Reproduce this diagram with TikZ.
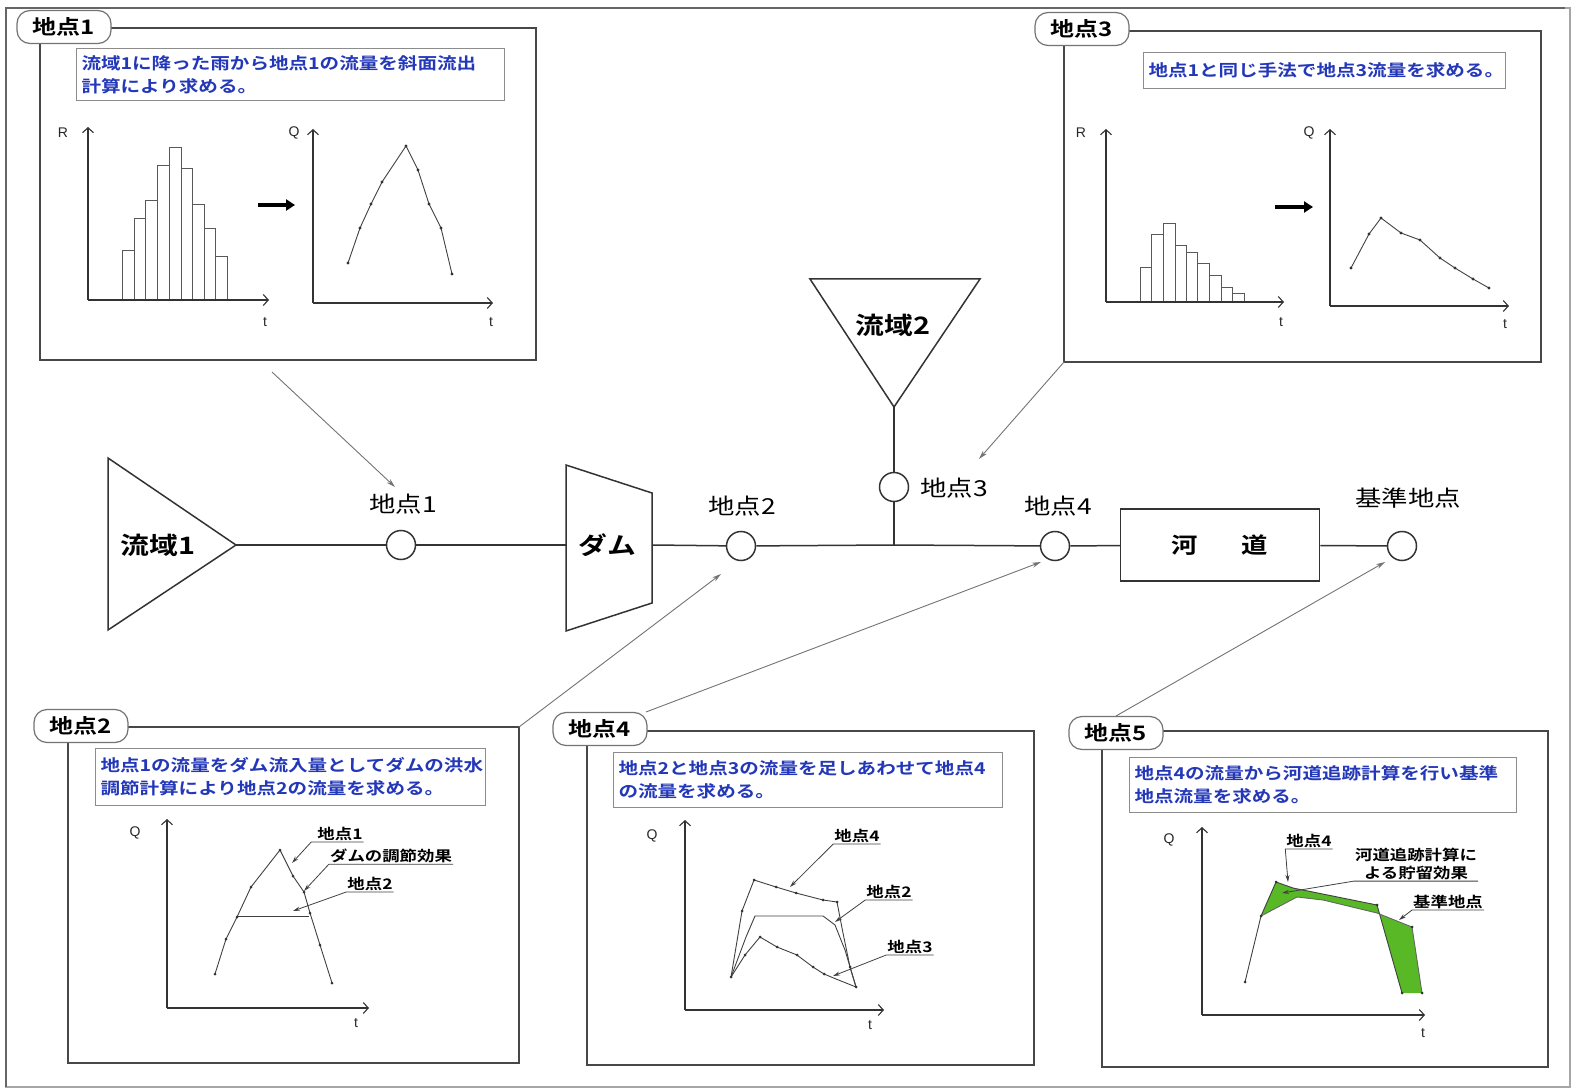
\documentclass[tikz,border=0pt]{standalone}
\usepackage{fontspec}
\setmainfont{Liberation Sans}
\newfontfamily\jp[FakeStretch=1.2]{Noto Sans CJK JP}
\newfontfamily\jpb[FakeStretch=1.2]{Noto Sans CJK JP Bold}
\usetikzlibrary{arrows.meta}
\definecolor{txtblue}{RGB}{35,55,185}
\definecolor{grn}{RGB}{88,184,38}
\begin{document}
\begin{tikzpicture}[x=1pt,y=-1pt,
  frame/.style={draw=black!72,line width=1.8pt},
  pill/.style={draw=black!55,fill=white,line width=1.2pt,rounded corners=13pt,minimum width=94pt,minimum height=33pt,inner sep=0pt,font=\jpb\fontsize{20}{22}\selectfont},
  bluebox/.style={draw=black!45,line width=1pt,fill=white,text=txtblue,align=left,anchor=north west,inner xsep=5pt,inner ysep=0pt,font=\jpb\fontsize{16.3}{23}\selectfont},
  axis/.style={draw=black!80,line width=1.1pt,-{Straight Barb[length=5pt,width=11pt]}},
  bar/.style={draw=black!65,line width=0.8pt},
  curve/.style={draw=black!75,line width=0.9pt},
  dot/.style={fill=black!80},
  pointer/.style={draw=black!55,line width=0.9pt,-{Stealth[length=9pt,width=5pt]}},
  lead/.style={draw=black!75,line width=0.8pt,-{Stealth[length=7pt,width=4pt]}},
  mainline/.style={draw=black!80,line width=1.5pt},
  shapeline/.style={draw=black!80,line width=1.5pt},
  ptc/.style={circle,draw=black!80,line width=1.5pt,fill=white,minimum size=29pt,inner sep=0pt},
  biglbl/.style={font=\jp\fontsize{22}{24}\selectfont,inner sep=1pt},
  shapelbl/.style={font=\jpb\fontsize{24}{26}\selectfont,inner sep=1pt},
  axlbl/.style={font=\fontsize{14}{15}\selectfont,text=black!85,inner sep=0pt},
  clbl/.style={font=\jpb\fontsize{14.5}{17}\selectfont,inner sep=1pt,align=center},
  arrowthick/.style={draw=black,line width=3.2pt,-{Triangle[length=9pt,width=11pt]}}
]
\useasboundingbox (0,0) rectangle (1574,1091);
% outer border
\draw[black!35,line width=1.2pt] (6,8) rectangle (1570,1087);
\draw[black!60,line width=1.4pt] (6,1087) -- (6,8) -- (1565,8);

% ================= Panel 1 =================
\draw[frame] (40,28) rectangle (536,360);
\node[pill] (pill1) at (64,27) {地点1};
\node[bluebox,text width=418pt,minimum height=52pt] (txt1) at (76,48)
  {流域1に降った雨から地点1の流量を斜面流出\\計算により求める。};
\foreach \a/\b/\h in {122/134/250,134/145/218,145/157/200,157/169/165,169/181/147,181/192/168,192/204/204,204/215/228,215/227/256}
  \draw[bar] (\a,300) rectangle (\b,\h);
\draw[axis] (88,300) -- (88,127);
\draw[axis] (88,300) -- (269,300);
\node[axlbl] (r1) at (63,133) {R};
\node[axlbl] (t1a) at (265,322) {t};
\draw[arrowthick] (258,205) -- (295,205);
\draw[axis] (313,303) -- (313,129);
\draw[axis] (313,303) -- (493,303);
\node[axlbl] (q1) at (294,133) {Q};
\node[axlbl] (t1b) at (491,322) {t};
\draw[curve] plot coordinates {(348,263)(360,228)(371,204)(382,182)(406,146)(418,170)(429,204)(441,228)(452,274)};
\foreach \p in {(348,263),(360,228),(371,204),(382,182),(406,146),(418,170),(429,204),(441,228),(452,274)}
  \fill[dot] \p circle (1.6pt);

% ================= Panel 3 =================
\draw[frame] (1064,31) rectangle (1541,362);
\node[pill] (pill3) at (1082,29) {地点3};
\node[bluebox,text width=352pt,minimum height=36pt] (txt3) at (1143,52)
  {地点1と同じ手法で地点3流量を求める。};
\foreach \a/\b/\h in {1140/1151/267,1151/1163/234,1163/1175/223,1175/1186/245,1186/1197/252,1197/1209/263,1209/1221/275,1221/1232/287,1232/1244/293}
  \draw[bar] (\a,302) rectangle (\b,\h);
\draw[axis] (1106,302) -- (1106,129);
\draw[axis] (1106,302) -- (1284,302);
\node[axlbl] (r3) at (1081,133) {R};
\node[axlbl] (t3a) at (1281,322) {t};
\draw[arrowthick] (1275,207) -- (1313,207);
\draw[axis] (1330,306) -- (1330,129);
\draw[axis] (1330,306) -- (1509,306);
\node[axlbl] (q3) at (1309,133) {Q};
\node[axlbl] (t3b) at (1505,324) {t};
\draw[curve] plot coordinates {(1351,268)(1369,234)(1381,218)(1401,233)(1420,240)(1440,258)(1455,268)(1473,279)(1489,288)};
\foreach \p in {(1351,268),(1369,234),(1381,218),(1401,233),(1420,240),(1440,258),(1455,268),(1473,279),(1489,288)}
  \fill[dot] \p circle (1.6pt);

% ================= Main schematic =================
\draw[shapeline,fill=white] (108,458) -- (108,630) -- (236,545) -- cycle;
\coordinate (w1tip) at (236,545);
\node[shapelbl] (w1) at (158,545) {流域1};
\draw[shapeline,fill=white] (566,465) -- (652,493) -- (652,603) -- (566,631) -- cycle;
\coordinate (damL) at (566,545);
\coordinate (damR) at (652,545);
\node[shapelbl] (dam) at (607,545) {ダム};
\draw[shapeline,fill=white] (810,279) -- (980,279) -- (894,407) -- cycle;
\coordinate (w2tip) at (894,407);
\node[shapelbl] (w2) at (893,325) {流域2};
\coordinate (jct) at (894,545);
\node[ptc] (p1) at (401,545) {};
\node[ptc] (p2) at (741,546) {};
\node[ptc] (p3) at (894,487) {};
\node[ptc] (p4) at (1055,546) {};
\node[ptc] (pk) at (1402,546) {};
\node[draw=black!80,line width=1.5pt,minimum width=199pt,minimum height=72pt,inner sep=0pt,font=\jpb\fontsize{22}{24}\selectfont] (kado) at (1220,545) {河\hspace{44pt}道};
\draw[mainline] (w1tip) -- (p1);
\draw[mainline] (p1) -- (damL);
\draw[mainline] (damR) -- (p2);
\draw[mainline] (p2) -- (jct) -- (p4);
\draw[mainline] (p4) -- (kado);
\draw[mainline] (kado) -- (pk);
\draw[mainline] (w2tip) -- (p3);
\draw[mainline] (p3) -- (jct);
\node[biglbl] (lp1) at (403,504) {地点1};
\node[biglbl] (lp2) at (742,506) {地点2};
\node[biglbl] (lp3) at (954,488) {地点3};
\node[biglbl] (lp4) at (1058,506) {地点4};
\node[biglbl] (lpk) at (1408,498) {基準地点};

% ================= Panel 2 =================
\draw[frame] (68,727) rectangle (519,1063);
\node[pill] (pill2) at (81,726) {地点2};
\node[bluebox,text width=380pt,minimum height=57pt] (txt2) at (95,748)
  {地点1の流量をダム流入量としてダムの洪水\\調節計算により地点2の流量を求める。};
\draw[axis] (167,1008) -- (167,819);
\draw[axis] (167,1008) -- (369,1008);
\node[axlbl] (q2) at (135,833) {Q};
\node[axlbl] (t2) at (356,1023) {t};
\draw[curve] plot coordinates {(215,974)(226,939)(237,917)(251,887)(280,850)(293,876)(304,892)(310,913)(320,945)(332,983)};
\draw[curve] (237,916) -- (309,916);
\foreach \p in {(215,974),(226,939),(237,917),(251,887),(280,850),(293,876),(304,892),(310,913),(320,945),(332,983)}
  \fill[dot] \p circle (1.5pt);
\node[clbl] (c2a) at (340,834) {地点1};
\node[clbl] (c2b) at (391,856) {ダムの調節効果};
\node[clbl] (c2c) at (370,884) {地点2};
\coordinate (c2at) at (292,863);
\coordinate (c2bt) at (304,891);
\coordinate (c2ct) at (293,911);
\draw[lead] (c2a.south east) -- ([xshift=-5pt]c2a.south west) -- (c2at);
\draw[lead] (c2b.south east) -- (c2b.south west) -- (c2bt);
\draw[lead] (c2c.south east) -- (c2c.south west) -- (c2ct);

% ================= Panel 4 =================
\draw[frame] (587,731) rectangle (1034,1065);
\node[pill] (pill4) at (600,729) {地点4};
\node[bluebox,text width=379pt,minimum height=55pt] (txt4) at (613,752)
  {地点2と地点3の流量を足しあわせて地点4\\の流量を求める。};
\draw[axis] (685,1010) -- (685,820);
\draw[axis] (685,1010) -- (884,1010);
\node[axlbl] (q4) at (652,836) {Q};
\node[axlbl] (t4) at (870,1025) {t};
\draw[curve] plot coordinates {(731,977)(742,911)(754,880)(776,887)(796,893)(823,900)(837,902)(843,933)(850,967)(856,987)};
\draw[curve] plot coordinates {(731,977)(746,937)(755,916)(823,916)(835,925)(845,950)(856,987)};
\draw[curve] plot coordinates {(731,977)(745,955)(760,937)(777,947)(797,955)(813,967)(824,974)(836,979)(856,987)};
\foreach \p in {(731,977),(742,911),(754,880),(776,887),(796,893),(823,900),(837,902),(850,967),(856,987),(745,955),(760,937),(777,947),(797,955),(813,967),(824,974)}
  \fill[dot] \p circle (1.5pt);
\node[clbl] (c4a) at (857,836) {地点4};
\node[clbl] (c4b) at (889,892) {地点2};
\node[clbl] (c4c) at (910,947) {地点3};
\coordinate (c4at) at (790,887);
\coordinate (c4bt) at (835,922);
\coordinate (c4ct) at (833,976);
\draw[lead] (c4a.south east) -- (c4a.south west) -- (c4at);
\draw[lead] (c4b.south east) -- (c4b.south west) -- (c4bt);
\draw[lead] (c4c.south east) -- (c4c.south west) -- (c4ct);

% ================= Panel 5 =================
\draw[frame] (1102,731) rectangle (1548,1067);
\node[pill] (pill5) at (1116,733) {地点5};
\node[bluebox,text width=377pt,minimum height=55pt] (txt5) at (1129,757)
  {地点4の流量から河道追跡計算を行い基準\\地点流量を求める。};
\draw[axis] (1202,1015) -- (1202,827);
\draw[axis] (1202,1015) -- (1425,1015);
\node[axlbl] (q5) at (1169,840) {Q};
\node[axlbl] (t5) at (1423,1033) {t};
\fill[grn] (1261,916) -- (1276,882) -- (1293,888) -- (1377,905) -- (1402,993) -- (1422,993) -- (1412,927) -- (1377,913) -- (1323,900) -- (1297,897) -- cycle;
\draw[curve] plot coordinates {(1245,982)(1261,916)(1276,882)(1293,888)(1377,905)(1402,993)};
\draw[curve,draw=black!60] plot coordinates {(1261,916)(1297,897)(1323,900)(1377,913)(1412,927)(1422,993)};
\foreach \p in {(1245,982),(1261,916),(1276,882),(1377,905),(1402,993),(1422,993),(1412,927)}
  \fill[dot] \p circle (1.5pt);
\node[clbl] (c5a) at (1309,841) {地点4};
\node[clbl,font=\jpb\fontsize{14.5}{18}\selectfont] (c5b) at (1416,864) {河道追跡計算に\\よる貯留効果};
\node[clbl] (c5c) at (1448,902) {基準地点};
\coordinate (c5at) at (1288,882);
\coordinate (c5bt) at (1282,893);
\coordinate (c5ct) at (1399,920);
\draw[lead] (c5a.south east) -- (c5a.south west) -- (c5at);
\draw[lead] (c5b.south east) -- (c5b.south west) -- (c5bt);
\draw[lead] (c5c.south east) -- (c5c.south west) -- (c5ct);

% ================= pointers =================
\coordinate (a1s) at (272,372);
\coordinate (a1e) at (395,487);
\coordinate (a3s) at (1064,362);
\coordinate (a3e) at (979,459);
\coordinate (a2s) at (519,727);
\coordinate (a2e) at (721,574);
\coordinate (a4s) at (646,712);
\coordinate (a4e) at (1041,562);
\coordinate (a5s) at (1116,716);
\coordinate (a5e) at (1385,562);
\draw[pointer] (a1s) -- (a1e);
\draw[pointer] (a3s) -- (a3e);
\draw[pointer] (a2s) -- (a2e);
\draw[pointer] (a4s) -- (a4e);
\draw[pointer] (a5s) -- (a5e);
\end{tikzpicture}
\end{document}
